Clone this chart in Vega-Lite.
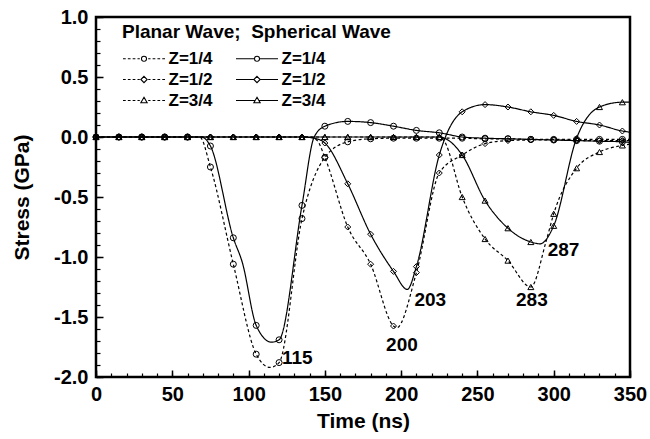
{
  "$schema": "https://vega.github.io/schema/vega-lite/v6.json",
  "width": 534,
  "height": 360,
  "autosize": {"type": "none"},
  "padding": {"left": 96, "top": 17, "right": 20, "bottom": 62},
  "background": "white",
  "config": {
    "view": {"stroke": "black", "strokeWidth": 2.5},
    "font": "Liberation Sans",
    "axis": {"grid": false, "domain": false, "tickColor": "black", "labelColor": "black", "titleColor": "black"}
  },
  "datasets": {
    "curves": [
      {"series": "Planar Z=1/4", "t": 0, "s": 0}, {"series": "Planar Z=1/4", "t": 15, "s": 0}, {"series": "Planar Z=1/4", "t": 30, "s": 0}, {"series": "Planar Z=1/4", "t": 45, "s": 0}, {"series": "Planar Z=1/4", "t": 60, "s": 0}, {"series": "Planar Z=1/4", "t": 68, "s": 0}, {"series": "Planar Z=1/4", "t": 75, "s": -0.25}, {"series": "Planar Z=1/4", "t": 90, "s": -1.06}, {"series": "Planar Z=1/4", "t": 105, "s": -1.81}, {"series": "Planar Z=1/4", "t": 114, "s": -1.92}, {"series": "Planar Z=1/4", "t": 120, "s": -1.88}, {"series": "Planar Z=1/4", "t": 135, "s": -0.68}, {"series": "Planar Z=1/4", "t": 150, "s": -0.17}, {"series": "Planar Z=1/4", "t": 165, "s": -0.04}, {"series": "Planar Z=1/4", "t": 180, "s": -0.015}, {"series": "Planar Z=1/4", "t": 195, "s": -0.01}, {"series": "Planar Z=1/4", "t": 210, "s": -0.01}, {"series": "Planar Z=1/4", "t": 225, "s": -0.01}, {"series": "Planar Z=1/4", "t": 240, "s": -0.01}, {"series": "Planar Z=1/4", "t": 255, "s": -0.015}, {"series": "Planar Z=1/4", "t": 270, "s": -0.015}, {"series": "Planar Z=1/4", "t": 285, "s": -0.02}, {"series": "Planar Z=1/4", "t": 300, "s": -0.02}, {"series": "Planar Z=1/4", "t": 315, "s": -0.02}, {"series": "Planar Z=1/4", "t": 330, "s": -0.02}, {"series": "Planar Z=1/4", "t": 345, "s": -0.02}, {"series": "Planar Z=1/4", "t": 350, "s": -0.02},

      {"series": "Spherical Z=1/4", "t": 0, "s": 0}, {"series": "Spherical Z=1/4", "t": 15, "s": 0}, {"series": "Spherical Z=1/4", "t": 30, "s": 0}, {"series": "Spherical Z=1/4", "t": 45, "s": 0}, {"series": "Spherical Z=1/4", "t": 60, "s": 0}, {"series": "Spherical Z=1/4", "t": 69, "s": 0}, {"series": "Spherical Z=1/4", "t": 75, "s": -0.075}, {"series": "Spherical Z=1/4", "t": 90, "s": -0.84}, {"series": "Spherical Z=1/4", "t": 96, "s": -1.05}, {"series": "Spherical Z=1/4", "t": 105, "s": -1.57}, {"series": "Spherical Z=1/4", "t": 115, "s": -1.71}, {"series": "Spherical Z=1/4", "t": 120, "s": -1.69}, {"series": "Spherical Z=1/4", "t": 135, "s": -0.57}, {"series": "Spherical Z=1/4", "t": 143, "s": 0}, {"series": "Spherical Z=1/4", "t": 150, "s": 0.09}, {"series": "Spherical Z=1/4", "t": 165, "s": 0.13}, {"series": "Spherical Z=1/4", "t": 180, "s": 0.12}, {"series": "Spherical Z=1/4", "t": 195, "s": 0.09}, {"series": "Spherical Z=1/4", "t": 210, "s": 0.055}, {"series": "Spherical Z=1/4", "t": 225, "s": 0.035}, {"series": "Spherical Z=1/4", "t": 240, "s": 0.0}, {"series": "Spherical Z=1/4", "t": 255, "s": -0.01}, {"series": "Spherical Z=1/4", "t": 270, "s": -0.015}, {"series": "Spherical Z=1/4", "t": 285, "s": -0.02}, {"series": "Spherical Z=1/4", "t": 300, "s": -0.025}, {"series": "Spherical Z=1/4", "t": 315, "s": -0.03}, {"series": "Spherical Z=1/4", "t": 330, "s": -0.035}, {"series": "Spherical Z=1/4", "t": 345, "s": -0.04}, {"series": "Spherical Z=1/4", "t": 350, "s": -0.045},

      {"series": "Planar Z=1/2", "t": 0, "s": 0}, {"series": "Planar Z=1/2", "t": 15, "s": 0}, {"series": "Planar Z=1/2", "t": 30, "s": 0}, {"series": "Planar Z=1/2", "t": 45, "s": 0}, {"series": "Planar Z=1/2", "t": 60, "s": 0}, {"series": "Planar Z=1/2", "t": 75, "s": 0}, {"series": "Planar Z=1/2", "t": 90, "s": 0}, {"series": "Planar Z=1/2", "t": 105, "s": 0}, {"series": "Planar Z=1/2", "t": 120, "s": 0}, {"series": "Planar Z=1/2", "t": 135, "s": 0}, {"series": "Planar Z=1/2", "t": 140, "s": 0}, {"series": "Planar Z=1/2", "t": 145, "s": -0.03}, {"series": "Planar Z=1/2", "t": 150, "s": -0.17}, {"series": "Planar Z=1/2", "t": 165, "s": -0.75}, {"series": "Planar Z=1/2", "t": 180, "s": -1.06}, {"series": "Planar Z=1/2", "t": 195, "s": -1.575}, {"series": "Planar Z=1/2", "t": 197, "s": -1.59}, {"series": "Planar Z=1/2", "t": 210, "s": -1.13}, {"series": "Planar Z=1/2", "t": 225, "s": -0.3}, {"series": "Planar Z=1/2", "t": 240, "s": -0.15}, {"series": "Planar Z=1/2", "t": 255, "s": -0.055}, {"series": "Planar Z=1/2", "t": 270, "s": -0.03}, {"series": "Planar Z=1/2", "t": 285, "s": -0.025}, {"series": "Planar Z=1/2", "t": 300, "s": -0.025}, {"series": "Planar Z=1/2", "t": 315, "s": -0.03}, {"series": "Planar Z=1/2", "t": 330, "s": -0.03}, {"series": "Planar Z=1/2", "t": 345, "s": -0.03}, {"series": "Planar Z=1/2", "t": 350, "s": -0.03},

      {"series": "Spherical Z=1/2", "t": 0, "s": 0}, {"series": "Spherical Z=1/2", "t": 15, "s": 0}, {"series": "Spherical Z=1/2", "t": 30, "s": 0}, {"series": "Spherical Z=1/2", "t": 45, "s": 0}, {"series": "Spherical Z=1/2", "t": 60, "s": 0}, {"series": "Spherical Z=1/2", "t": 75, "s": 0}, {"series": "Spherical Z=1/2", "t": 90, "s": 0}, {"series": "Spherical Z=1/2", "t": 105, "s": 0}, {"series": "Spherical Z=1/2", "t": 120, "s": 0}, {"series": "Spherical Z=1/2", "t": 135, "s": 0}, {"series": "Spherical Z=1/2", "t": 143, "s": -0.01}, {"series": "Spherical Z=1/2", "t": 150, "s": -0.05}, {"series": "Spherical Z=1/2", "t": 165, "s": -0.39}, {"series": "Spherical Z=1/2", "t": 180, "s": -0.81}, {"series": "Spherical Z=1/2", "t": 195, "s": -1.12}, {"series": "Spherical Z=1/2", "t": 204, "s": -1.27}, {"series": "Spherical Z=1/2", "t": 210, "s": -1.08}, {"series": "Spherical Z=1/2", "t": 225, "s": -0.15}, {"series": "Spherical Z=1/2", "t": 240, "s": 0.21}, {"series": "Spherical Z=1/2", "t": 255, "s": 0.27}, {"series": "Spherical Z=1/2", "t": 270, "s": 0.25}, {"series": "Spherical Z=1/2", "t": 285, "s": 0.21}, {"series": "Spherical Z=1/2", "t": 300, "s": 0.18}, {"series": "Spherical Z=1/2", "t": 315, "s": 0.13}, {"series": "Spherical Z=1/2", "t": 330, "s": 0.1}, {"series": "Spherical Z=1/2", "t": 345, "s": 0.05}, {"series": "Spherical Z=1/2", "t": 350, "s": 0.04},

      {"series": "Planar Z=3/4", "t": 0, "s": 0}, {"series": "Planar Z=3/4", "t": 15, "s": 0}, {"series": "Planar Z=3/4", "t": 30, "s": 0}, {"series": "Planar Z=3/4", "t": 45, "s": 0}, {"series": "Planar Z=3/4", "t": 60, "s": 0}, {"series": "Planar Z=3/4", "t": 75, "s": 0}, {"series": "Planar Z=3/4", "t": 90, "s": 0}, {"series": "Planar Z=3/4", "t": 105, "s": 0}, {"series": "Planar Z=3/4", "t": 120, "s": 0}, {"series": "Planar Z=3/4", "t": 135, "s": 0}, {"series": "Planar Z=3/4", "t": 150, "s": 0}, {"series": "Planar Z=3/4", "t": 165, "s": 0}, {"series": "Planar Z=3/4", "t": 180, "s": 0}, {"series": "Planar Z=3/4", "t": 195, "s": 0}, {"series": "Planar Z=3/4", "t": 210, "s": 0}, {"series": "Planar Z=3/4", "t": 225, "s": 0}, {"series": "Planar Z=3/4", "t": 228, "s": -0.03}, {"series": "Planar Z=3/4", "t": 240, "s": -0.5}, {"series": "Planar Z=3/4", "t": 255, "s": -0.85}, {"series": "Planar Z=3/4", "t": 270, "s": -1.03}, {"series": "Planar Z=3/4", "t": 285, "s": -1.25}, {"series": "Planar Z=3/4", "t": 295, "s": -0.87}, {"series": "Planar Z=3/4", "t": 300, "s": -0.64}, {"series": "Planar Z=3/4", "t": 315, "s": -0.26}, {"series": "Planar Z=3/4", "t": 330, "s": -0.125}, {"series": "Planar Z=3/4", "t": 345, "s": -0.07}, {"series": "Planar Z=3/4", "t": 350, "s": -0.06},

      {"series": "Spherical Z=3/4", "t": 0, "s": 0}, {"series": "Spherical Z=3/4", "t": 15, "s": 0}, {"series": "Spherical Z=3/4", "t": 30, "s": 0}, {"series": "Spherical Z=3/4", "t": 45, "s": 0}, {"series": "Spherical Z=3/4", "t": 60, "s": 0}, {"series": "Spherical Z=3/4", "t": 75, "s": 0}, {"series": "Spherical Z=3/4", "t": 90, "s": 0}, {"series": "Spherical Z=3/4", "t": 105, "s": 0}, {"series": "Spherical Z=3/4", "t": 120, "s": 0}, {"series": "Spherical Z=3/4", "t": 135, "s": 0}, {"series": "Spherical Z=3/4", "t": 150, "s": 0}, {"series": "Spherical Z=3/4", "t": 165, "s": 0}, {"series": "Spherical Z=3/4", "t": 180, "s": 0}, {"series": "Spherical Z=3/4", "t": 195, "s": 0}, {"series": "Spherical Z=3/4", "t": 210, "s": 0}, {"series": "Spherical Z=3/4", "t": 225, "s": 0}, {"series": "Spherical Z=3/4", "t": 230, "s": -0.02}, {"series": "Spherical Z=3/4", "t": 240, "s": -0.15}, {"series": "Spherical Z=3/4", "t": 255, "s": -0.53}, {"series": "Spherical Z=3/4", "t": 270, "s": -0.76}, {"series": "Spherical Z=3/4", "t": 285, "s": -0.875}, {"series": "Spherical Z=3/4", "t": 291, "s": -0.89}, {"series": "Spherical Z=3/4", "t": 300, "s": -0.74}, {"series": "Spherical Z=3/4", "t": 315, "s": -0.01}, {"series": "Spherical Z=3/4", "t": 330, "s": 0.25}, {"series": "Spherical Z=3/4", "t": 345, "s": 0.29}, {"series": "Spherical Z=3/4", "t": 350, "s": 0.29}
    ],
    "notes": [
      {"t": 131.9, "s": -1.844, "label": "115"},
      {"t": 200.5, "s": -1.736, "label": "200"},
      {"t": 219.1, "s": -1.36, "label": "203"},
      {"t": 285.7, "s": -1.36, "label": "283"},
      {"t": 306.4, "s": -0.944, "label": "287"}
    ]
  },
  "layer": [
    {
      "data": {"name": "curves"},
      "mark": {"type": "line", "interpolate": "monotone", "color": "black", "strokeWidth": 1.2},
      "encoding": {
        "x": {"field": "t", "type": "quantitative", "scale": {"domain": [0, 350], "nice": false, "zero": false},
          "axis": {"orient": "bottom", "offset": -7, "values": [0, 50, 100, 150, 200, 250, 300, 350], "tickSize": 7, "tickWidth": 1.5,
            "labelFontSize": 20, "labelFontWeight": "bold", "labelPadding": 7, "labelFlush": false,
            "title": "Time (ns)", "titleFontSize": 21, "titleFontWeight": "bold", "titlePadding": 6}},
        "y": {"field": "s", "type": "quantitative", "scale": {"domain": [-2, 1], "nice": false, "zero": false},
          "axis": {"orient": "left", "offset": -7, "values": [-2, -1.5, -1, -0.5, 0, 0.5, 1], "tickSize": 7, "tickWidth": 1.5,
            "labelExpr": "(datum.value < 0 ? '-' : '') + format(abs(datum.value), '.1f')",
            "labelFontSize": 20, "labelFontWeight": "bold", "labelPadding": 8, "labelFlush": false,
            "title": "Stress (GPa)", "titleFontSize": 21, "titleFontWeight": "bold", "titlePadding": 21}},
        "detail": {"field": "series", "type": "nominal"},
        "strokeDash": {"field": "series", "type": "nominal",
          "scale": {"domain": ["Planar Z=1/4", "Spherical Z=1/4", "Planar Z=1/2", "Spherical Z=1/2", "Planar Z=3/4", "Spherical Z=3/4"],
            "range": [[3, 2.5], [1, 0], [3, 2.5], [1, 0], [3, 2.5], [1, 0]]},
          "legend": null}
      }
    },
    {
      "data": {"name": "curves"},
      "transform": [{"filter": "datum.t % 15 == 0"}],
      "mark": {"type": "point", "filled": false, "color": "black", "strokeWidth": 1, "size": 36, "opacity": 1},
      "encoding": {
        "x": {"field": "t", "type": "quantitative",
          "axis": {"orient": "bottom", "offset": -4, "values": [0, 10, 20, 30, 40, 50, 60, 70, 80, 90, 100, 110, 120, 130, 140, 150, 160, 170, 180, 190, 200, 210, 220, 230, 240, 250, 260, 270, 280, 290, 300, 310, 320, 330, 340, 350],
            "tickSize": 4, "tickWidth": 1.2, "labels": false, "title": null}},
        "y": {"field": "s", "type": "quantitative",
          "axis": {"orient": "left", "offset": -4, "values": [-2, -1.9, -1.8, -1.7, -1.6, -1.5, -1.4, -1.3, -1.2, -1.1, -1, -0.9, -0.8, -0.7, -0.6, -0.5, -0.4, -0.3, -0.2, -0.1, 0, 0.1, 0.2, 0.3, 0.4, 0.5, 0.6, 0.7, 0.8, 0.9, 1],
            "tickSize": 4, "tickWidth": 1.2, "labels": false, "title": null}},
        "shape": {"field": "series", "type": "nominal",
          "scale": {"domain": ["Planar Z=1/4", "Spherical Z=1/4", "Planar Z=1/2", "Spherical Z=1/2", "Planar Z=3/4", "Spherical Z=3/4"],
            "range": ["circle", "circle", "diamond", "diamond", "triangle-up", "triangle-up"]},
          "legend": null}
      }
    },
    {
      "data": {"name": "curves"},
      "transform": [{"filter": "false"}],
      "mark": {"type": "point", "filled": false, "color": "black", "strokeWidth": 1.1, "opacity": 1},
      "encoding": {
        "x": {"field": "t", "type": "quantitative", "axis": null},
        "y": {"field": "s", "type": "quantitative", "axis": null},
        "shape": {"field": "series", "type": "nominal",
          "scale": {"domain": ["Planar Z=1/4", "Planar Z=1/2", "Planar Z=3/4", "Spherical Z=1/4", "Spherical Z=1/2", "Spherical Z=3/4"],
            "range": [
              "M-2,0H-1.74M-1.54,0H-1.28M-1.08,0H-0.82M-0.62,0H-0.4M0.4,0H0.62M0.82,0H1.08M1.28,0H1.54M1.74,0H2M0.24,0A0.24,0.24,0,1,1,-0.24,0A0.24,0.24,0,1,1,0.24,0",
              "M-2,0H-1.74M-1.54,0H-1.28M-1.08,0H-0.82M-0.62,0H-0.4M0.4,0H0.62M0.82,0H1.08M1.28,0H1.54M1.74,0H2M0,-0.3L0.3,0L0,0.3L-0.3,0Z",
              "M-2,0H-1.74M-1.54,0H-1.28M-1.08,0H-0.82M-0.62,0H-0.4M0.4,0H0.62M0.82,0H1.08M1.28,0H1.54M1.74,0H2M0,-0.3L0.3,0.22L-0.3,0.22Z",
              "M-2,0H-0.24M0.24,0H2M0.24,0A0.24,0.24,0,1,1,-0.24,0A0.24,0.24,0,1,1,0.24,0",
              "M-2,0H-0.3M0.3,0H2M0,-0.3L0.3,0L0,0.3L-0.3,0Z",
              "M-2,0H-0.17M0.17,0H2M0,-0.3L0.3,0.22L-0.3,0.22Z"
            ]},
          "legend": {"orient": "none", "legendX": 26, "legendY": 6, "columns": 2, "columnPadding": 20, "rowPadding": 1, "padding": 0,
            "title": "Planar Wave;\u00a0\u00a0Spherical Wave", "titleFontSize": 19, "titleFontWeight": "bold", "titleColor": "black", "titlePadding": 5, "titleLimit": 400,
            "symbolSize": 441, "symbolOffset": 10.5, "symbolStrokeWidth": 1.1, "symbolStrokeColor": "black",
            "labelExpr": "split(datum.label, ' ')[1]", "labelFontSize": 17, "labelFontWeight": "bold", "labelColor": "black", "labelOffset": 13}
        }
      }
    },
    {
      "data": {"name": "notes"},
      "mark": {"type": "text", "fontSize": 19, "fontWeight": "bold", "color": "black", "align": "center", "baseline": "middle"},
      "encoding": {
        "x": {"field": "t", "type": "quantitative", "axis": null},
        "y": {"field": "s", "type": "quantitative", "axis": null},
        "text": {"field": "label", "type": "nominal"}
      }
    }
  ],
  "resolve": {"scale": {"shape": "independent"}, "axis": {"x": "independent", "y": "independent"}}
}
